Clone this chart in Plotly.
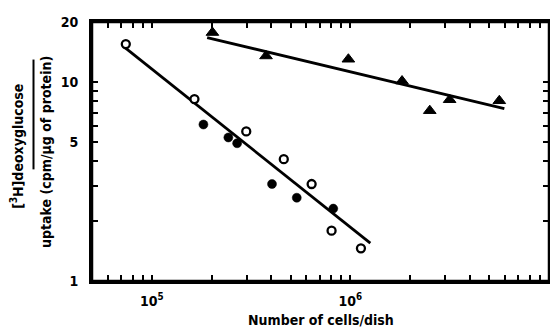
import plotly.graph_objects as go

# Open circles
open_x = [7.4e4, 1.64e5, 2.99e5, 4.62e5, 6.38e5, 8.04e5, 1.13e6]
open_y = [15.5, 8.2, 5.64, 4.09, 3.07, 1.79, 1.46]
# Filled circles
fill_x = [1.82e5, 2.43e5, 2.69e5, 4.03e5, 5.37e5, 8.2e5]
fill_y = [6.11, 5.26, 4.92, 3.07, 2.62, 2.31]
# Triangles
tri_x = [2.02e5, 3.76e5, 9.77e5, 1.82e6, 2.51e6, 3.16e6, 5.62e6]
tri_y = [17.7, 13.5, 13.0, 10.1, 7.17, 8.14, 8.04]
# Fitted lines (endpoints)
line1_x = [7.3e4, 1.26e6]
line1_y = [14.9, 1.55]
line2_x = [1.9e5, 5.96e6]
line2_y = [16.7, 7.34]

x_label_vals = [1e5, 1e6, 1e7]
x_label_text = ["<b>10<sup>5</sup></b>", "<b>10<sup>6</sup></b>", "<b>10<sup>7</sup></b>"]
y_label_vals = [1, 5, 10, 20]
y_label_text = ["<b>1</b>", "<b>5</b>", "<b>10</b>", "<b>20</b>"]

FONT = "DejaVu Sans Condensed, Liberation Sans Narrow, sans-serif"

# all tick positions (minor + labelled), blank text for unlabelled ones
x_all = sorted(set([m * 10 ** e for e in (4, 5, 6) for m in range(1, 10)
                    if 5e4 <= m * 10 ** e <= 1e7] + x_label_vals))
x_txt = [x_label_text[x_label_vals.index(v)] if v in x_label_vals else " " for v in x_all]
y_all = sorted(set(list(range(1, 11)) + [20]))
y_txt = [y_label_text[y_label_vals.index(v)] if v in y_label_vals else " " for v in y_all]

fig = go.Figure()
fig.add_trace(go.Scatter(x=line1_x, y=line1_y, mode="lines",
                         line=dict(color="black", width=2.8), showlegend=False))
fig.add_trace(go.Scatter(x=line2_x, y=line2_y, mode="lines",
                         line=dict(color="black", width=2.8), showlegend=False))
fig.add_trace(go.Scatter(x=open_x, y=open_y, mode="markers",
                         marker=dict(symbol="circle", size=8, color="white",
                                     line=dict(color="black", width=2.3)),
                         showlegend=False))
fig.add_trace(go.Scatter(x=fill_x, y=fill_y, mode="markers",
                         marker=dict(symbol="circle", size=9, color="black",
                                     line=dict(color="black", width=0.5)),
                         showlegend=False))
fig.add_trace(go.Scatter(x=tri_x, y=tri_y, mode="markers",
                         marker=dict(symbol="triangle-up", size=11, color="black",
                                     line=dict(color="black", width=1)),
                         showlegend=False))

fig.update_xaxes(type="log", range=[4.699, 7.0], tickmode="array",
                 tickvals=x_all, ticktext=x_txt, tickangle=0,
                 ticks="inside", ticklen=6, tickwidth=2, tickcolor="#000000",
                 ticklabelstandoff=5,
                 showline=True, linewidth=3, linecolor="#000000", mirror="allticks",
                 showgrid=False, zeroline=False,
                 tickfont=dict(family=FONT, size=14, color="black"))
fig.update_yaxes(type="log", range=[0, 1.30103], tickmode="array",
                 tickvals=y_all, ticktext=y_txt,
                 ticks="inside", ticklen=6, tickwidth=2, tickcolor="#000000",
                 ticklabelstandoff=8,
                 showline=True, linewidth=3, linecolor="#000000", mirror="allticks",
                 showgrid=False, zeroline=False,
                 tickfont=dict(family=FONT, size=14, color="black"))

# the page body has an 8px margin, so the figure is 8px smaller to fit the window
fig.update_layout(
    width=550, height=322,
    margin=dict(l=84, r=6, t=11, b=49),
    plot_bgcolor="white", paper_bgcolor="white",
    font=dict(family=FONT, color="black"),
    annotations=[
        dict(text="<b>Number of cells/dish</b>", xref="paper", yref="paper",
             x=0.5, y=-0.149, xanchor="center", yanchor="middle",
             showarrow=False, font=dict(family=FONT, size=14, color="black")),
        dict(text="<b>[<sup>3</sup>H]deoxyglucose</b>", xref="paper", yref="paper",
             x=-0.163, y=0.52, xanchor="center", yanchor="middle", textangle=-90,
             showarrow=False, font=dict(family=FONT, size=14, color="black")),
        dict(text="<b>uptake (cpm/µg of protein)</b>", xref="paper", yref="paper",
             x=-0.102, y=0.5, xanchor="center", yanchor="middle", textangle=-90,
             showarrow=False, font=dict(family=FONT, size=14, color="black")),
    ],
    shapes=[
        dict(type="line", xref="paper", yref="paper", x0=-0.128, x1=-0.128,
             y0=0.431, y1=0.855, line=dict(color="black", width=2)),
        dict(type="rect", xref="paper", yref="paper", x0=0, x1=1, y0=0, y1=1,
             line=dict(color="black", width=2.5), layer="above"),
    ],
)

fig.write_html("out.html", config={"responsive": False})
